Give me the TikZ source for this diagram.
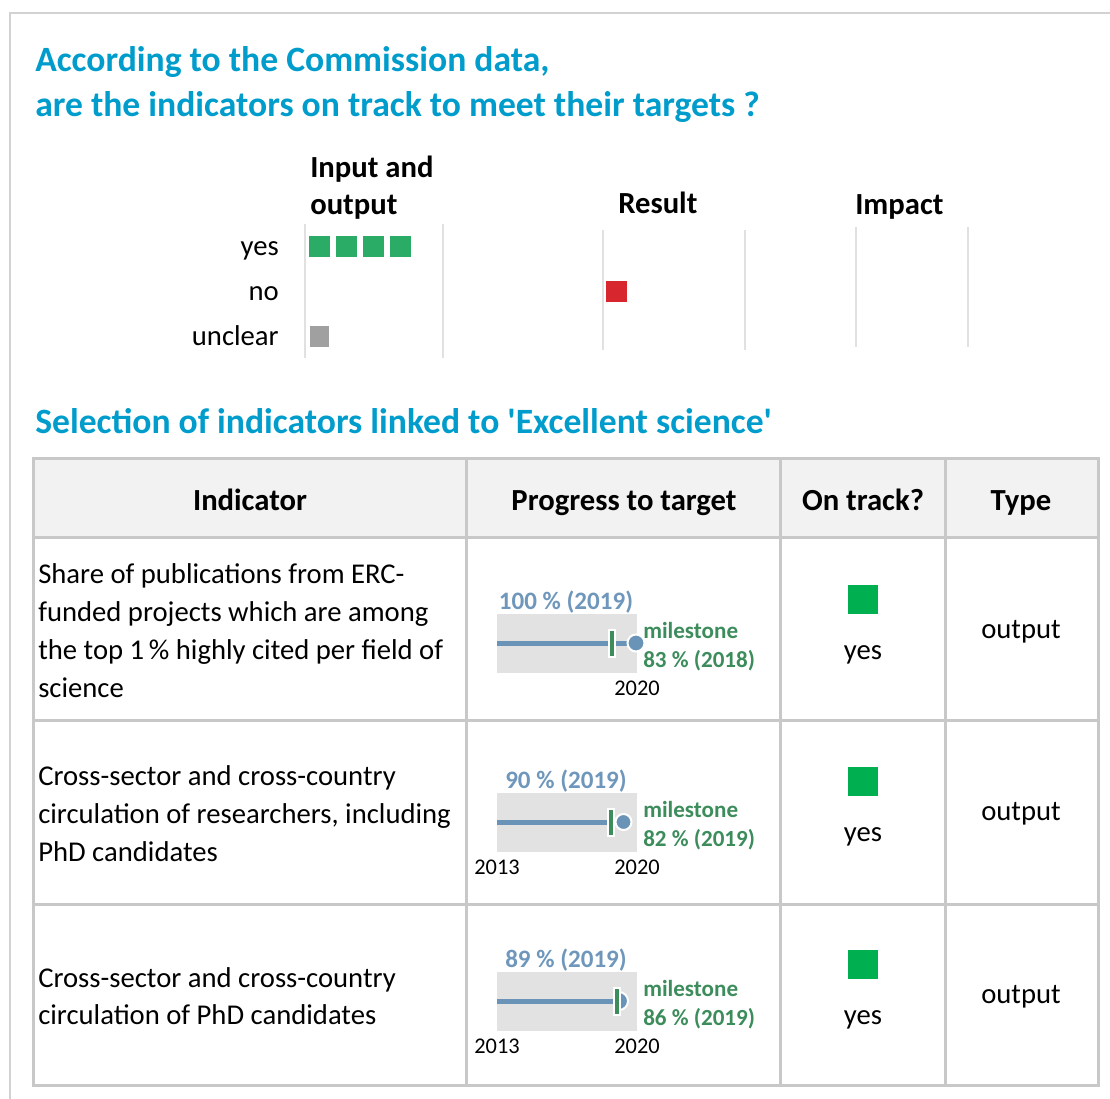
\documentclass[tikz,border=0pt]{standalone}
\usepackage{fontspec}
\setmainfont{Carlito}
\definecolor{titleblue}{RGB}{0,156,204}
\definecolor{framegray}{RGB}{210,210,210}
\definecolor{gridgray}{RGB}{225,225,225}
\definecolor{yesgreen}{RGB}{42,172,102}
\definecolor{nored}{RGB}{215,38,46}
\definecolor{uncleargray}{RGB}{160,160,160}
\definecolor{trackgreen}{RGB}{0,176,80}
\definecolor{barblue}{RGB}{106,147,184}
\definecolor{valblue}{RGB}{111,151,188}
\definecolor{milegreen}{RGB}{60,140,92}
\definecolor{bargray}{RGB}{226,226,226}
\definecolor{headgray}{RGB}{242,242,242}
\definecolor{tablegray}{RGB}{200,200,200}
\tikzset{
  titletext/.style={anchor=base west, inner sep=0pt, text=titleblue, font=\fontsize{26.7}{32}\selectfont\bfseries},
  headtext/.style={inner sep=0pt, font=\fontsize{23}{28}\selectfont\bfseries},
  bodytext/.style={inner sep=0pt, font=\fontsize{21.5}{28.5}\selectfont},
  valtext/.style={anchor=base, inner sep=0pt, text=valblue, font=\fontsize{18.8}{23}\selectfont\bfseries},
  miletext/.style={anchor=base west, inner sep=0pt, text=milegreen, font=\fontsize{17.3}{21}\selectfont\bfseries},
  yeartext/.style={anchor=base, inner sep=0pt, font=\fontsize{16.8}{21}\selectfont},
  tickmark/.style={draw=white, fill=milegreen, line width=1.5pt},
  dotmark/.style={draw=white, fill=barblue, line width=1.5pt},
}
\begin{document}
\begin{tikzpicture}[x=0.75pt,y=-0.75pt]
  \useasboundingbox (0,0) rectangle (1110,1099);
  \draw[framegray, line width=1.5pt] (10,13) rectangle (1130,1120);

  % on track overview
  \node[titletext] (title1) at (35,72) {According to the Commission data,};
  \node[titletext] (title2) at (35,116) {are the indicators on track to meet their targets ?};
  \node[headtext, anchor=base west] (headio1) at (310,177) {Input and};
  \node[headtext, anchor=base west] (headio2) at (310,214) {output};
  \node[headtext, anchor=base west] (headres) at (618,213) {Result};
  \node[headtext, anchor=base west] (headimp) at (855,214) {Impact};
  \node[bodytext, anchor=base east] (labyes) at (279,255) {yes};
  \node[bodytext, anchor=base east] (labno) at (279,300) {no};
  \node[bodytext, anchor=base east] (labunc) at (279,345) {unclear};
  \foreach \x/\ya/\yb in {305/224/358, 443/224/358, 603/230/350, 745/230/350, 856/227/347, 968/227/347}
    \draw[gridgray, line width=1pt] (\x,\ya) -- (\x,\yb);
  \foreach \x in {309,336,363,390}
    \fill[yesgreen] (\x,236) rectangle ++(21,21);
  \fill[nored] (606,281) rectangle ++(21,21);
  \fill[uncleargray] (310,326) rectangle ++(19,21);

  % table
  \node[titletext] (title3) at (35,433) {Selection of indicators linked to \textquotesingle Excellent science\textquotesingle};
  \fill[headgray] (33,458) rectangle (1098,537);
  \draw[tablegray, line width=2.25pt] (33,458) rectangle (1098,1085);
  \foreach \y in {537,720,904}
    \draw[tablegray, line width=2.25pt] (33,\y) -- (1098,\y);
  \foreach \x in {466,780,945}
    \draw[tablegray, line width=2.25pt] (\x,458) -- (\x,1085);
  \node[headtext, anchor=base] (colind) at (250,510) {Indicator};
  \node[headtext, anchor=base] (colprog) at (624,510) {Progress to target};
  \node[headtext, anchor=base] (coltrack) at (863,510) {On track?};
  \node[headtext, anchor=base] (coltype) at (1021,510) {Type};

  \foreach \txt [count=\i] in {Share of publications from ERC-, funded projects which are among, the top 1\,\% highly cited per field of, science}
    \node[bodytext, anchor=base west] (inda\i) at (38,583+38*\i-38) {\txt};
  \foreach \txt [count=\i] in {Cross-sector and cross-country, {circulation of researchers, including}, PhD candidates}
    \node[bodytext, anchor=base west] (indb\i) at (38,785+38*\i-38) {\txt};
  \foreach \txt [count=\i] in {Cross-sector and cross-country, circulation of PhD candidates}
    \node[bodytext, anchor=base west] (indc\i) at (38,987+37*\i-37) {\txt};

  % progress bars
  \foreach \r in {0,179,358}
    \fill[bargray] (497,614+\r) rectangle (637,673+\r);
  \draw[barblue, line width=3.75pt] (497,643) -- (609,643);
  \draw[barblue, line width=3.75pt] (615,643) -- (628,643);
  \draw[tickmark] (609,630) rectangle (615,657);
  \draw[dotmark] (636,643) circle (8.5);
  \draw[barblue, line width=3.75pt] (497,822) -- (608,822);
  \draw[tickmark] (608,809) rectangle (614,836);
  \draw[dotmark] (623.5,822) circle (8);
  \draw[barblue, line width=3.75pt] (497,1001) -- (613,1001);
  \draw[dotmark] (619,1010) arc (90:-90:9) -- cycle;
  \draw[tickmark] (613.5,988) rectangle (619.5,1015);

  \node[valtext] (vala) at (566,609) {100 \% (2019)};
  \node[miletext] (milea) at (643,638) {milestone};
  \node[miletext] (mvala) at (643,667) {83 \% (2018)};
  \node[yeartext] (enda) at (637,695) {2020};
  \node[valtext] (valb) at (566,788) {90 \% (2019)};
  \node[miletext] (mileb) at (643,817) {milestone};
  \node[miletext] (mvalb) at (643,846) {82 \% (2019)};
  \node[yeartext] (startb) at (497,874) {2013};
  \node[yeartext] (endb) at (637,874) {2020};
  \node[valtext] (valc) at (566,967) {89 \% (2019)};
  \node[miletext] (milec) at (643,996) {milestone};
  \node[miletext] (mvalc) at (643,1025) {86 \% (2019)};
  \node[yeartext] (startc) at (497,1053) {2013};
  \node[yeartext] (endc) at (637,1053) {2020};

  % on track and type
  \foreach \r [count=\i] in {0,182,365} {
    \fill[trackgreen] (848,585+\r) rectangle ++(30,29);
    \node[bodytext, anchor=base] (yes\i) at (863,659+\r) {yes};
    \node[bodytext, anchor=base] (type\i) at (1021,638+\r) {output};
  }
\end{tikzpicture}
\end{document}
